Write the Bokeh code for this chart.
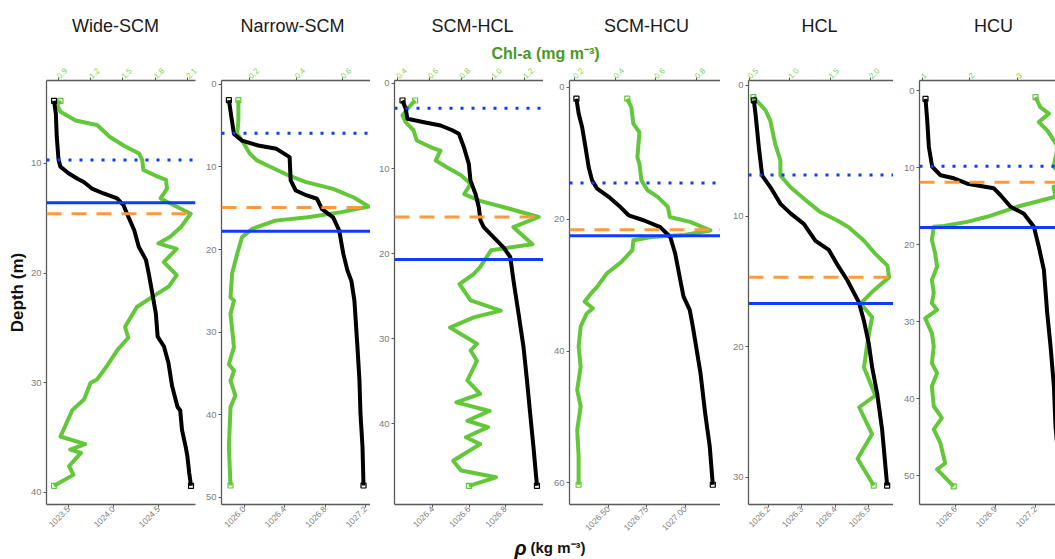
import math
from bokeh.plotting import figure
from bokeh.models import Range1d, LinearAxis, FixedTicker, Span
from bokeh.layouts import column, row
from bokeh.embed import file_html
from bokeh.resources import INLINE
from bokeh.core.properties import value

# ---------------------------------------------------------------- data
titles = ["Wide-SCM", "Narrow-SCM", "SCM-HCL", "SCM-HCU", "HCL", "HCU"]

# Wide-SCM
wide_dens_depth = [4.3, 5.5, 7.6, 9.7, 10.3, 10.9, 11.4, 11.7, 12.3, 12.75, 13.2, 13.8, 14.6, 16.1, 17.6,
                   18.8, 20.0, 21.8, 23.7, 25.8, 26.7, 28.2, 30.3, 32.2, 32.5, 34.3, 35.8, 36.7, 38.2, 39.4]
wide_dens = [1023.34, 1023.36, 1023.37, 1023.39, 1023.41, 1023.50, 1023.60, 1023.67, 1023.76, 1023.89,
             1024.04, 1024.11, 1024.15, 1024.23, 1024.28, 1024.36, 1024.39, 1024.43, 1024.47, 1024.49,
             1024.56, 1024.61, 1024.65, 1024.71, 1024.74, 1024.76, 1024.80, 1024.82, 1024.84, 1024.86]
wide_chl_depth = [4.3, 4.7, 5.3, 6.1, 6.5, 7.6, 8.4, 9.1, 9.7, 10.6, 11.2, 11.5, 12.3, 13.2, 14.6, 15.8,
                  16.7, 17.3, 17.8, 19.0, 20.2, 21.2, 22.2, 23.1, 24.9, 25.9, 27.0, 28.5, 29.7, 30.0, 31.5,
                  32.5, 34.9, 35.6, 36.1, 36.4, 37.6, 38.4, 39.4]
wide_chl = [0.92, 0.89, 0.92, 1.06, 1.26, 1.38, 1.51, 1.65, 1.68, 1.69, 1.82, 1.90, 1.91, 1.85, 2.13, 2.04,
            1.94, 1.83, 2.00, 1.88, 2.00, 1.93, 1.77, 1.63, 1.52, 1.55, 1.45, 1.35, 1.26, 1.20, 1.14,
            1.03, 0.92, 1.15, 1.01, 1.11, 1.00, 1.04, 0.86]

# Narrow-SCM
narrow_dens_depth = [1.9, 4.4, 6.0, 6.8, 7.4, 7.8, 8.8, 11.6, 12.85, 13.45, 13.85, 15.1, 16.1, 17.7, 20.5,
                     22.5, 23.8, 26.2, 31.8, 35.9, 39.9, 43.9, 48.6]
narrow_dens = [1025.85, 1025.88, 1025.90, 1025.98, 1026.14, 1026.32, 1026.45, 1026.46, 1026.51, 1026.62,
               1026.72, 1026.77, 1026.88, 1026.94, 1026.98, 1027.02, 1027.06, 1027.09, 1027.12, 1027.14,
               1027.15, 1027.17, 1027.18]
narrow_chl_depth = [1.9, 4.4, 6.0, 6.8, 8.4, 9.2, 10.0, 11.0, 11.8, 12.65, 13.7, 14.8, 15.5, 16.1, 16.5,
                    17.5, 18.5, 20.5, 22.9, 25.8, 26.2, 27.8, 31.8, 33.9, 34.7, 35.9, 37.7, 39.1, 43.9, 48.6]
narrow_chl = [0.150, 0.150, 0.145, 0.166, 0.200, 0.230, 0.290, 0.365, 0.440, 0.560, 0.650, 0.715, 0.590,
              0.450, 0.310, 0.210, 0.166, 0.145, 0.123, 0.116, 0.131, 0.116, 0.131, 0.109, 0.131, 0.116,
              0.137, 0.116, 0.109, 0.116]

# SCM-HCL
hcl_scm_dens_depth = [2.0, 3.0, 4.15, 4.55, 4.94, 5.5, 5.9, 7.5, 9.45, 11.4, 13.0, 14.55, 16.1, 16.9, 18.1,
                      19.3, 20.4, 23.2, 27.1, 31.0, 34.9, 38.9, 42.8, 47.3]
hcl_scm_dens = [1026.234, 1026.252, 1026.261, 1026.352, 1026.444, 1026.508, 1026.544, 1026.572, 1026.599,
                1026.608, 1026.636, 1026.654, 1026.663, 1026.681, 1026.736, 1026.791, 1026.827, 1026.845,
                1026.873, 1026.900, 1026.919, 1026.937, 1026.955, 1026.974]
hcl_scm_chl_depth = [2.0, 2.8, 3.76, 4.55, 5.5, 6.7, 7.5, 7.9, 9.06, 9.85, 10.8, 11.8, 13.0, 13.8, 14.55,
                     15.7, 16.9, 18.9, 19.6, 21.6, 22.4, 23.6, 25.5, 26.7, 27.5, 28.7, 30.6, 31.4, 32.6,
                     34.9, 36.5, 37.5, 38.5, 39.65, 40.4, 41.6, 42.4, 44.35, 45.5, 46.3, 47.3]
hcl_scm_chl = [0.51, 0.47, 0.43, 0.45, 0.50, 0.52, 0.61, 0.67, 0.64, 0.71, 0.80, 0.86, 0.82, 0.92, 1.07,
               1.29, 1.13, 1.25, 0.99, 0.92, 0.88, 0.79, 0.86, 1.05, 0.88, 0.73, 0.90, 0.86, 0.90, 0.84,
               0.92, 0.77, 0.98, 0.84, 0.97, 0.83, 0.92, 0.75, 0.80, 1.02, 0.85]

# SCM-HCU
hcu_scm_dens_depth = [1.7, 4.0, 6.0, 9.05, 12.1, 14.1, 15.35, 16.6, 17.9, 19.4, 20.15, 21.2, 22.7, 25.2,
                      29.2, 31.7, 33.8, 36.3, 43.4, 49.4, 54.5, 60.3]
hcu_scm_dens = [1026.292, 1026.307, 1026.329, 1026.351, 1026.372, 1026.394, 1026.427, 1026.502, 1026.567,
                1026.632, 1026.729, 1026.838, 1026.903, 1026.935, 1026.968, 1026.989, 1027.030, 1027.050,
                1027.100, 1027.130, 1027.160, 1027.180]
hcu_scm_chl_depth = [1.7, 3.0, 5.5, 6.8, 10.6, 11.6, 14.1, 15.6, 16.6, 18.1, 19.65, 20.4, 21.7, 22.4, 22.7,
                     23.2, 24.7, 26.5, 28.2, 30.3, 31.3, 32.5, 33.5, 34.3, 36.3, 39.3, 42.4, 45.9, 48.4,
                     52.0, 56.0, 60.3]
hcu_scm_chl = [0.46, 0.48, 0.49, 0.52, 0.51, 0.52, 0.53, 0.56, 0.61, 0.66, 0.67, 0.77, 0.87, 0.74, 0.58,
               0.49, 0.485, 0.43, 0.36, 0.31, 0.28, 0.25, 0.29, 0.26, 0.23, 0.22, 0.23, 0.213, 0.23,
               0.213, 0.22, 0.22]

# HCL
hcl_dens_depth = [1.15, 2.17, 4.73, 6.9, 7.8, 9.07, 9.8, 10.6, 11.9, 12.6, 13.7, 14.9, 16.6, 18.0, 19.8,
                  21.6, 23.6, 26.4, 30.65]
hcl_dens = [1026.156, 1026.161, 1026.171, 1026.181, 1026.206, 1026.236, 1026.266, 1026.306, 1026.341,
            1026.381, 1026.406, 1026.436, 1026.471, 1026.486, 1026.501, 1026.511, 1026.526, 1026.541,
            1026.556]
hcl_chl_depth = [0.9, 1.9, 2.7, 4.47, 5.75, 6.9, 7.8, 8.8, 9.7, 10.35, 10.86, 11.9, 12.9, 13.8, 14.7,
                 15.7, 16.7, 17.75, 19.8, 21.6, 23.75, 24.65, 26.7, 28.6, 30.65]
hcl_chl = [0.55, 0.70, 0.76, 0.82, 0.885, 0.885, 1.01, 1.20, 1.38, 1.59, 1.73, 1.92, 2.06, 2.21, 2.23,
           2.04, 1.88, 2.02, 1.96, 1.92, 2.06, 1.86, 2.02, 1.84, 2.04]

# HCU
hcu_dens_depth = [1.08, 3.9, 7.3, 9.9, 11.0, 11.4, 12.1, 12.7, 13.6, 15.1, 16.0, 17.7, 20.3, 23.3, 28.9,
                  33.25, 38.4, 43.6, 47.5, 51.4]
hcu_dens = [1026.375, 1026.388, 1026.400, 1026.425, 1026.488, 1026.588, 1026.688, 1026.888, 1026.938,
            1027.013, 1027.113, 1027.188, 1027.225, 1027.263, 1027.288, 1027.313, 1027.338, 1027.350,
            1027.370, 1027.390]
hcu_chl_depth = [0.87, 2.16, 3.0, 4.1, 5.2, 7.3, 9.9, 11.9, 12.5, 13.8, 15.1, 16.4, 17.06, 17.6, 17.7,
                 19.4, 21.2, 22.9, 24.6, 26.3, 27.6, 28.5, 29.6, 31.5, 33.25, 35.4, 36.7, 38.4, 41.0,
                 42.5, 44.0, 45.8, 48.4, 49.2, 51.4]
hcu_chl = [3.38, 3.48, 3.66, 3.45, 3.63, 3.85, 3.76, 4.05, 3.76, 3.80, 2.99, 2.36, 1.94, 1.45, 1.24,
           1.20, 1.27, 1.31, 1.20, 1.24, 1.20, 1.31, 1.06, 1.20, 1.24, 1.20, 1.31, 1.20, 1.24, 1.41,
           1.24, 1.38, 1.48, 1.31, 1.66]

# reference depths: mixed layer (dotted), pycnocline (solid), chlorophyll maximum (dashed)
mld_depth = [9.7, 5.9, 2.9, 14.5, 6.85, 9.85]
pycnocline_depth = [13.6, 17.8, 20.7, 22.5, 16.7, 17.8]
chl_max_depth = [14.6, 14.9, 15.7, 21.6, 14.7, 11.9]

# axis ticks and labels
depth_ticks = [[10, 20, 30, 40], [0, 10, 20, 30, 40, 50], [0, 10, 20, 30, 40],
               [0, 20, 40, 60], [0, 10, 20, 30], [0, 10, 20, 30, 40, 50]]
rho_ticks = [[1023.5, 1024.0, 1024.5], [1026.0, 1026.4, 1026.8, 1027.2], [1026.4, 1026.6, 1026.8],
             [1026.5, 1026.75, 1027.0], [1026.2, 1026.3, 1026.4, 1026.5], [1026.6, 1026.9, 1027.2]]
rho_labels = [["1023.5", "1024.0", "1024.5"], ["1026.0", "1026.4", "1026.8", "1027.2"],
              ["1026.4", "1026.6", "1026.8"], ["1026.50", "1026.75", "1027.00"],
              ["1026.2", "1026.3", "1026.4", "1026.5"], ["1026.6", "1026.9", "1027.2"]]
chl_ticks = [[0.9, 1.2, 1.5, 1.8, 2.1], [0.2, 0.4, 0.6], [0.4, 0.6, 0.8, 1.0, 1.2],
             [0.2, 0.4, 0.6, 0.8], [0.5, 1.0, 1.5, 2.0], [1, 2, 3]]
chl_labels = [["0.9", "1.2", "1.5", "1.8", "2.1"], ["0.2", "0.4", "0.6"],
              ["0.4", "0.6", "0.8", "1.0", "1.2"], ["0.2", "0.4", "0.6", "0.8"],
              ["0.5", "1.0", "1.5", "2.0"], ["1", "2", "3"]]

# axis limits (depth: deep end first so depth grows downward)
rho_lim = [(1023.256, 1024.91), (1025.777, 1027.249), (1026.19, 1027.01),
           (1026.247, 1027.23), (1026.14, 1026.575), (1026.33, 1027.35)]
chl_lim = [(0.79, 2.175), (0.077, 0.722), (0.38, 1.32), (0.175, 0.92), (0.49, 2.285), (0.94, 3.80)]
depth_lim = [(41.1, 2.45), (50.9, -0.48), (49.5, -0.35), (63.3, -1.06), (32.1, -0.38), (53.76, -1.3)]

dens_depths = [wide_dens_depth, narrow_dens_depth, hcl_scm_dens_depth, hcu_scm_dens_depth,
               hcl_dens_depth, hcu_dens_depth]
dens_vals = [wide_dens, narrow_dens, hcl_scm_dens, hcu_scm_dens, hcl_dens, hcu_dens]
chl_depths = [wide_chl_depth, narrow_chl_depth, hcl_scm_chl_depth, hcu_scm_chl_depth,
              hcl_chl_depth, hcu_chl_depth]
chl_vals = [wide_chl, narrow_chl, hcl_scm_chl, hcu_scm_chl, hcl_chl, hcu_chl]

# ---------------------------------------------------------------- style
FONT = "Liberation Sans"
BLACK = "#000000"
GREEN = "#63c73a"
BLUE = "#0d3bff"
ORANGE = "#ff9a3c"
AXIS_COL = "#5a5a5a"
TICK_TXT = "#7d7d7d"
TOP_TXT = "#78d650"
LW = 4

HEADER_H = 62
TOP_B = 18
FRAME_H = 424
BOTTOM_B = 32
FOOTER_H = 559 - HEADER_H - TOP_B - FRAME_H - BOTTOM_B

left_borders = [46, 17, 24, 26, 28, 26]
right_borders = [7, 0, 0, 0, 0, 0]
frame_widths = [149, 151, 149, 151, 145, 136]
title_x = [115, 292, 472, 646, 819, 993]


def style_axis(ax, size, color):
    ax.axis_line_color = AXIS_COL
    ax.axis_line_width = 1.3
    ax.major_tick_line_color = AXIS_COL
    ax.major_tick_line_width = 1.0
    ax.major_tick_out = 3
    ax.major_tick_in = 0
    ax.minor_tick_line_color = None
    ax.major_label_text_font = FONT
    ax.major_label_text_font_size = size
    ax.major_label_text_color = color


def make_panel(k):
    lb, rb, fw = left_borders[k], right_borders[k], frame_widths[k]
    p = figure(width=lb + fw + rb, height=TOP_B + FRAME_H + BOTTOM_B,
               output_backend="svg", toolbar_location=None,
               x_range=Range1d(*rho_lim[k]), y_range=Range1d(*depth_lim[k]),
               min_border_left=lb, min_border_right=rb,
               min_border_top=TOP_B, min_border_bottom=BOTTOM_B)
    p.extra_x_ranges = {"chl": Range1d(*chl_lim[k])}
    top_axis = LinearAxis(x_range_name="chl")
    p.add_layout(top_axis, "above")
    p.grid.visible = False
    p.outline_line_color = None

    # bottom: density
    xa = p.below[0]
    style_axis(xa, "8.5px", TICK_TXT)
    xa.ticker = FixedTicker(ticks=rho_ticks[k])
    xa.major_label_overrides = dict(zip(rho_ticks[k], rho_labels[k]))
    xa.major_label_orientation = math.pi / 4
    xa.major_label_standoff = 0

    # top: chlorophyll
    style_axis(top_axis, "8px", TOP_TXT)
    top_axis.ticker = FixedTicker(ticks=chl_ticks[k])
    top_axis.major_label_overrides = dict(zip(chl_ticks[k], chl_labels[k]))
    top_axis.major_label_orientation = math.pi / 4
    top_axis.major_label_standoff = 0

    # left: depth
    ya = p.left[0]
    style_axis(ya, "9.5px", TICK_TXT)
    ya.ticker = FixedTicker(ticks=depth_ticks[k])
    ya.major_label_overrides = {t: str(t) for t in depth_ticks[k]}
    ya.major_label_standoff = 2
    if k == 0:
        ya.axis_label = "Depth (m)"
        ya.axis_label_text_font = FONT
        ya.axis_label_text_font_size = "17px"
        ya.axis_label_text_font_style = "bold"
        ya.axis_label_text_color = "#111111"
        ya.axis_label_standoff = 1

    # profiles, with open squares at the first and last sample
    cv, cd = chl_vals[k], chl_depths[k]
    dv, dd = dens_vals[k], dens_depths[k]
    p.line(cv, cd, x_range_name="chl", line_color=GREEN, line_width=LW, line_join="round")
    p.scatter([cv[0], cv[-1]], [cd[0], cd[-1]], x_range_name="chl", marker="square", size=5,
              fill_color=None, line_color=GREEN, line_width=1.2)
    p.line(dv, dd, line_color=BLACK, line_width=LW, line_join="round")
    p.scatter([dv[0], dv[-1]], [dd[0], dd[-1]], marker="square", size=5,
              fill_color=None, line_color=BLACK, line_width=1.2)

    # reference depths
    p.add_layout(Span(location=mld_depth[k], dimension="width", line_color=BLUE,
                      line_width=3, line_dash="3 8"))
    p.add_layout(Span(location=pycnocline_depth[k], dimension="width", line_color=BLUE,
                      line_width=3))
    p.add_layout(Span(location=chl_max_depth[k], dimension="width", line_color=ORANGE,
                      line_width=3, line_dash="15 10"))
    return p


panels = [make_panel(k) for k in range(6)]

# header: panel titles and the chlorophyll axis title
header = figure(width=1055, height=HEADER_H, x_range=Range1d(0, 1055), y_range=Range1d(HEADER_H, 0),
                output_backend="svg", toolbar_location=None,
                x_axis_location=None, y_axis_location=None, min_border=0)
header.grid.visible = False
header.outline_line_color = None
header.text(x=title_x, y=[25] * 6, text=titles, text_font=value(FONT), text_font_size="18px",
            text_align="center", text_baseline="middle", text_color="#1a1a1a")
header.text(x=[545], y=[53], text=["Chl-a (mg m\u207b\u00b3)"], text_font=value(FONT),
            text_font_size="16px", text_font_style="bold", text_color="#4a9824",
            text_align="center", text_baseline="middle")

# footer: density axis title
footer = figure(width=1055, height=FOOTER_H, x_range=Range1d(0, 1055), y_range=Range1d(FOOTER_H, 0),
                output_backend="svg", toolbar_location=None,
                x_axis_location=None, y_axis_location=None, min_border=0)
footer.grid.visible = False
footer.outline_line_color = None
footer.text(x=[526], y=[11], text=["\u03c1"], text_font=value(FONT), text_font_size="20px",
            text_font_style="bold italic", text_align="right", text_baseline="middle",
            text_color="#111111")
footer.text(x=[530], y=[11], text=["(kg m\u207b\u00b3)"], text_font=value(FONT),
            text_font_size="15px", text_font_style="bold", text_align="left",
            text_baseline="middle", text_color="#111111")

layout = column(header, row(*panels), footer)
open("out.html", "w").write(file_html(layout, INLINE))
